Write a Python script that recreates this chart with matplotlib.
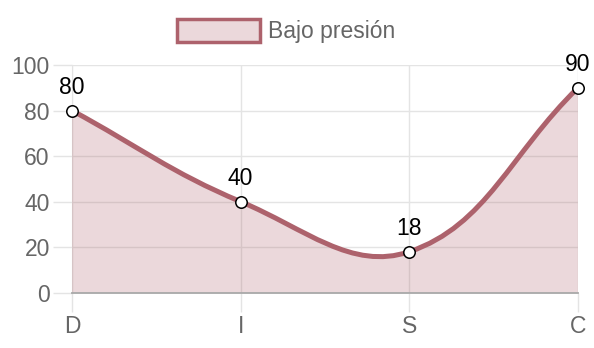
import numpy as np
import matplotlib.pyplot as plt
from matplotlib.path import Path
from matplotlib.patches import PathPatch, Patch

categories = ["D", "I", "S", "C"]
values = [80, 40, 18, 90]
series_label = "Bajo presión"
y_ticks = [0, 20, 40, 60, 80, 100]

LINE = "#ad626c"
FILL = (0.69, 0.40, 0.44, 0.25)
FONT = "Liberation Sans"


def spline_controls(pts, tension=0.4):
    # chart.js style bezier control points, computed in pixel space
    n = len(pts)
    ctrl = []
    for i in range(n):
        prev = pts[max(i - 1, 0)]
        cur = pts[i]
        nxt = pts[min(i + 1, n - 1)]
        d01 = np.hypot(*(cur - prev))
        d12 = np.hypot(*(nxt - cur))
        tot = d01 + d12
        s01 = d01 / tot if tot else 0
        s12 = d12 / tot if tot else 0
        ctrl.append((cur - tension * s01 * (nxt - prev),
                     cur + tension * s12 * (nxt - prev)))
    return ctrl


fig = plt.figure(figsize=(5.94, 3.48), dpi=100)
ax = fig.add_axes([72 / 594, 1 - 292.7 / 348, (578 - 72) / 594, (292.7 - 65) / 348])

x = np.arange(len(categories))
ax.set_xlim(0, len(categories) - 1)
ax.set_ylim(0, 100)

# build the curve in display coords, then back to data coords
disp = ax.transData.transform(np.column_stack([x, values]))
ctrl = spline_controls(disp)
verts = [disp[0]]
codes = [Path.MOVETO]
for i in range(len(disp) - 1):
    verts += [ctrl[i][1], ctrl[i + 1][0], disp[i + 1]]
    codes += [Path.CURVE4] * 3
inv = ax.transData.inverted()
verts = inv.transform(np.array(verts))

line_path = Path(verts, codes)
fill_verts = np.vstack([verts, [[x[-1], 0], [x[0], 0], verts[0]]])
fill_codes = codes + [Path.LINETO, Path.LINETO, Path.CLOSEPOLY]
ax.add_patch(PathPatch(Path(fill_verts, fill_codes), facecolor=FILL, edgecolor="none", zorder=2))
ax.add_patch(PathPatch(line_path, facecolor="none", edgecolor=LINE, lw=3.6,
                       capstyle="round", joinstyle="round", zorder=3))

ax.scatter(x, values, s=68, facecolor="white", edgecolor="black", linewidth=1.1,
           zorder=4, clip_on=False)
for xi, v in zip(x, values):
    ax.annotate(str(v), (xi, v), xytext=(0, 16.5), textcoords="offset points",
                ha="center", va="center", fontsize=16.5, family=FONT, color="black")

ax.set_xticks(x)
ax.set_xticklabels(categories)
ax.set_yticks(y_ticks)
ax.grid(True, color="#e4e4e4", lw=1, zorder=0)
ax.tick_params(axis="both", length=14, width=1, color="#e4e4e4", labelcolor="#666666",
               labelsize=16.5, pad=2)
for lab in ax.get_xticklabels() + ax.get_yticklabels():
    lab.set_family(FONT)
for s in ["top", "right"]:
    ax.spines[s].set_visible(False)
ax.spines["left"].set_color("#e4e4e4")
ax.spines["bottom"].set_color("#a8a8a8")
ax.spines["bottom"].set_linewidth(1.3)
ax.spines["left"].set_zorder(1)

handle = Patch(facecolor=FILL, edgecolor=LINE, linewidth=2.5, label=series_label)
fig.legend(handles=[handle], loc="center", bbox_to_anchor=(286 / 594, 1 - 31 / 348),
           frameon=False, handlelength=3.65, handleheight=1.2, handletextpad=0.33,
           borderpad=0, prop={"family": FONT, "size": 16.5}, labelcolor="#666666")

fig.savefig("out.png", dpi=100)
